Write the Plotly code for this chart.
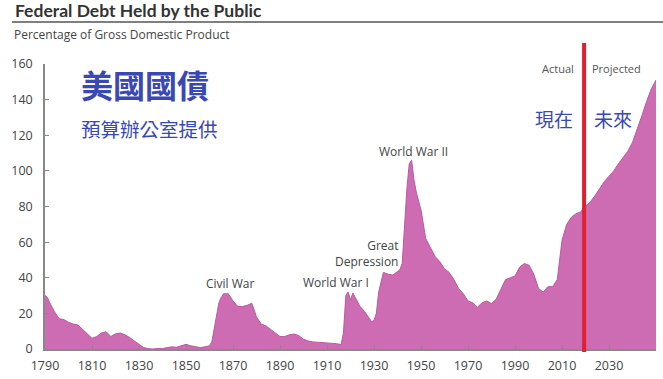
import plotly.graph_objects as go

years = [1790, 1791, 1792, 1794, 1796, 1798, 1800, 1802, 1804, 1806, 1808, 1810,
         1812, 1814, 1816, 1818, 1820, 1822, 1824, 1826, 1828, 1830, 1832, 1834,
         1836, 1838, 1840, 1842, 1844, 1846, 1848, 1850, 1852, 1854, 1856, 1858,
         1860, 1861, 1862, 1863, 1864, 1865, 1866, 1868, 1870, 1872, 1874, 1876,
         1878, 1879, 1880, 1882, 1884, 1886, 1888, 1890, 1892, 1894, 1896, 1898,
         1900, 1902, 1904, 1906, 1908, 1910, 1912, 1914, 1916, 1917, 1918, 1919,
         1920, 1921, 1922, 1924, 1926, 1928, 1929, 1930, 1931, 1932, 1933, 1934,
         1936, 1938, 1940, 1941, 1942, 1943, 1944, 1945, 1946, 1947, 1948, 1950,
         1952, 1954, 1956, 1958, 1960, 1962, 1964, 1966, 1968, 1970, 1972, 1974,
         1976, 1978, 1980, 1982, 1984, 1986, 1988, 1990, 1992, 1994, 1996, 1998,
         2000, 2002, 2004, 2006, 2008, 2009, 2010, 2012, 2014, 2016, 2018, 2019,
         2020, 2022, 2024, 2026, 2028, 2030, 2032, 2034, 2036, 2038, 2040, 2042,
         2044, 2046, 2048, 2050]
debt_pct = [30, 29, 26, 21, 17, 16.5, 15, 14, 13.5, 11, 9, 6,
            7, 9, 9.7, 7, 8.5, 9, 8, 6.5, 4.5, 2.5, 0.8, 0.2,
            0, 0.3, 0.3, 0.8, 1.2, 1.0, 2, 2.6, 1.8, 1.2, 0.8, 1.2,
            1.8, 4, 12, 20, 26, 29, 31, 31, 27, 24, 23.8, 24.5,
            25.7, 22, 18, 14, 13, 11, 9, 7, 7, 8, 8.4, 7.5,
            5.5, 4.5, 4, 3.8, 3.8, 3.5, 3.3, 3, 2.5, 9, 30, 32,
            27.5, 31.5, 29, 24, 21, 17, 15.3, 16, 20, 32, 37, 43,
            42, 41.5, 43.5, 44.5, 48, 70, 90, 104, 106, 95, 88, 78,
            62, 57, 52, 49, 45, 43, 39, 34, 31, 27, 26, 23.5,
            26, 27, 25.5, 28, 34, 39, 40, 41, 46, 48, 47, 42,
            34, 32, 35, 35, 39, 52, 61, 70, 74, 76, 77, 79,
            80, 82.5, 86, 90, 94, 97, 100, 104, 107.5, 111, 116, 123,
            131, 139, 146, 151]

x_ticks = [1790, 1810, 1830, 1850, 1870, 1890, 1910, 1930, 1950, 1970, 1990, 2010, 2030]
y_ticks = [0, 20, 40, 60, 80, 100, 120, 140, 160]
split_year = 2019.4

events = [
    ("Civil War", 1869.1, 36.5),
    ("World War I", 1914, 37.2),
    ("World War II", 1946.6, 110.8),
]

fig = go.Figure()
fig.add_trace(go.Scatter(
    x=years, y=debt_pct, mode="lines", fill="tozeroy",
    line=dict(color="#b95a9f", width=1),
    fillcolor="#cd6cb2", hoverinfo="skip", showlegend=False,
))

tickfont = dict(family="Open Sans, Lato, sans-serif", size=12.5, color="#444")
fig.update_layout(
    width=663, height=379,
    margin=dict(l=45, r=7, t=64, b=30),
    paper_bgcolor="white", plot_bgcolor="white",
    xaxis=dict(range=[1790, 2050], tickvals=x_ticks, ticks="inside", ticklen=4,
               tickcolor="#888", showline=True, linecolor="#888", linewidth=1.5,
               showgrid=False, zeroline=False, tickfont=tickfont, ticklabelstandoff=4,
               automargin=False),
    yaxis=dict(range=[0, 160], tickvals=y_ticks, ticks="inside", ticklen=4,
               tickcolor="#888", showline=True, linecolor="#888", linewidth=1.5,
               showgrid=False, zeroline=False, tickfont=tickfont, ticklabelstandoff=8,
               automargin=False),
)

# title and subtitle
fig.add_annotation(text="<b>Federal Debt Held by the Public</b>", xref="paper", yref="paper",
                   x=-32/611, y=1 + (64 - 10) / 285, xanchor="left", yanchor="middle",
                   showarrow=False, font=dict(family="Lato, sans-serif", size=17.5, color="#333"))
fig.add_annotation(text="Percentage of Gross Domestic Product", xref="paper", yref="paper",
                   x=-33/611, y=1 + (64 - 35) / 285, xanchor="left", yanchor="middle",
                   showarrow=False, font=dict(family="Open Sans, sans-serif", size=12, color="#444"))
fig.add_shape(type="line", xref="paper", yref="paper", x0=-33/611, x1=1 + 7/611,
              y0=1 + (64 - 22) / 285, y1=1 + (64 - 22) / 285,
              line=dict(color="#555", width=1.5))

lab_font = dict(family="Open Sans, sans-serif", size=12, color="#444")
for txt, ex, ey in events:
    fig.add_annotation(text=txt, x=ex, y=ey, showarrow=False, font=lab_font,
                       xanchor="center", yanchor="middle")
fig.add_annotation(text="Great<br>Depression", x=1941, y=53.4, showarrow=False, font=lab_font,
                   xanchor="right", yanchor="middle", align="right")

small_font = dict(family="Open Sans, sans-serif", size=11, color="#555")
fig.add_annotation(text="Actual", x=2008.3, y=157.3, showarrow=False, font=small_font)
fig.add_annotation(text="Projected", x=2033.4, y=157.3, showarrow=False, font=small_font)

cjk_blue = "#3a48b4"
fig.add_annotation(text="<b>美國國債</b>", x=1804.6, y=148.9, xanchor="left", showarrow=False,
                   font=dict(family="Noto Sans CJK TC", size=32, color=cjk_blue))
fig.add_annotation(text="預算辦公室提供", x=1804.6, y=123.6, xanchor="left", showarrow=False,
                   font=dict(family="Noto Sans CJK TC", size=19.5, color=cjk_blue))
fig.add_annotation(text="現在", x=2006.8, y=129.2, showarrow=False,
                   font=dict(family="Noto Sans CJK TC", size=19, color=cjk_blue))
fig.add_annotation(text="未來", x=2031.9, y=129.2, showarrow=False,
                   font=dict(family="Noto Sans CJK TC", size=19, color=cjk_blue))

# red divider between actual and projected
fig.add_shape(type="line", xref="x", yref="paper", x0=split_year, x1=split_year,
              y0=-3/285, y1=1 + 21/285, line=dict(color="#e0202c", width=4))

fig.write_html("out.html", config={"displayModeBar": False},
               post_script="document.body.style.margin='0';document.body.style.padding='0';")
